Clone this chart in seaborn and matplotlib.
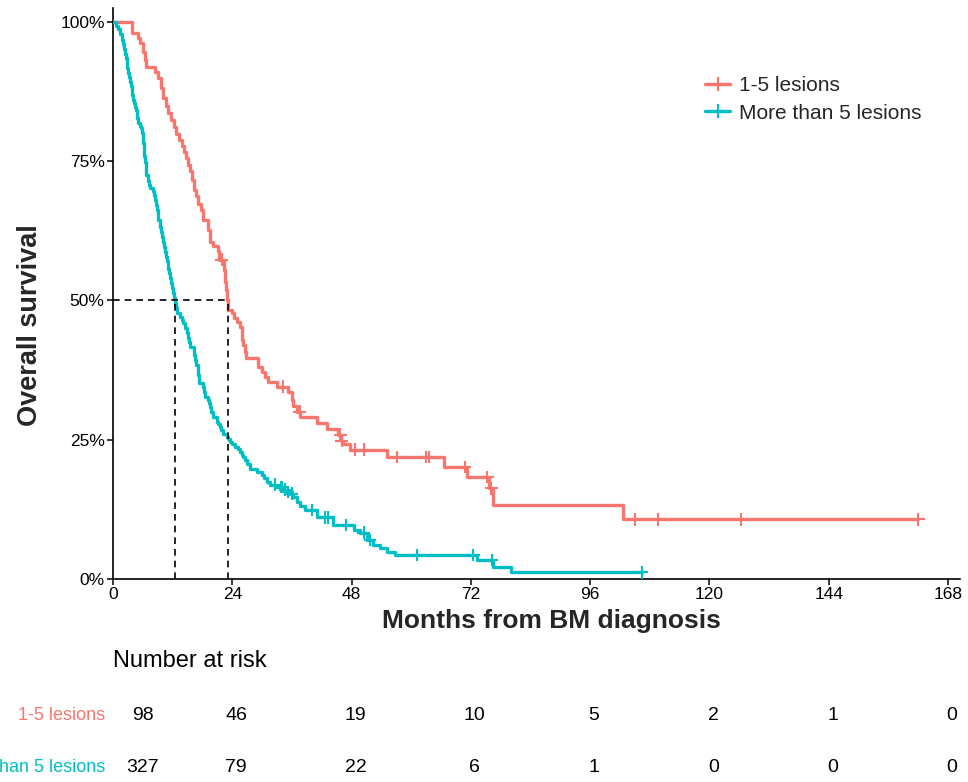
import numpy as np
import pandas as pd
import matplotlib
matplotlib.use("Agg")
import matplotlib.pyplot as plt
import matplotlib.transforms as mtransforms
from matplotlib.lines import Line2D
import seaborn as sns

# ---------------- data ----------------
group_names = ["1-5 lesions", "More than 5 lesions"]
group_colors = ["#F8766D", "#00BFC4"]

# 1-5 lesions: step times (months) and survival (%) after each step
red_t = [0, 3.8, 5.0, 5.4, 6.0, 6.4, 6.6, 8.5, 9.1, 9.7, 10.1, 10.7, 11.1, 11.7, 12.3, 12.7, 13.3,
         13.9, 14.3, 14.7, 15.1, 15.5, 15.9, 16.3, 16.7, 17.1, 17.7, 18.1, 19.1, 19.5, 20.1, 21.1, 21.4,
         22.3, 22.5, 22.7, 22.9, 23.2, 23.9, 24.3, 24.9, 25.6, 25.9, 26.0, 26.2, 26.6, 26.8, 29.2, 29.9,
         30.6, 31.2, 32.9, 35.3, 36.0, 36.3, 37.0, 37.7, 41.0, 43.0, 45.3, 45.8, 46.3, 47.7, 55.1, 66.5,
         71.2, 75.7, 76.5, 102.6]
red_s = [100, 98.0, 97.1, 96.2, 94.6, 93.2, 91.9, 91.0, 89.9, 88.2, 86.4, 84.9, 83.7, 82.4, 81.1, 79.9, 78.8,
         77.7, 76.7, 75.6, 74.3, 73.2, 71.6, 69.8, 68.8, 67.3, 66.2, 64.5, 62.7, 60.5, 59.8, 58.9, 57.3,
         55.5, 53.3, 51.9, 50.1, 48.3, 47.8, 46.9, 46.1, 45.2, 44.2, 42.9, 42.0, 40.8, 39.7, 38.1, 37.2,
         36.3, 35.4, 34.5, 33.6, 32.1, 31.1, 30.0, 29.1, 28.0, 26.9, 25.9, 24.8, 24.2, 23.2, 21.9, 20.1,
         18.3, 16.3, 13.3, 10.7]
red_censored = [21.9, 34.3, 37.6, 45.7, 46.0, 48.7, 50.4, 57.2, 62.9, 63.6, 70.8, 75.3, 76.1,
                105.0, 109.7, 126.4, 162.0]

# More than 5 lesions
teal_t = [0, 0.6, 1.0, 1.4, 1.8, 2.1, 2.2, 2.4, 2.6, 2.8,
          2.9, 3.1, 3.2, 3.4, 3.6, 3.8, 3.9, 4.1, 4.2, 4.4,
          4.6, 4.8, 4.9, 5.1, 5.4, 5.6, 5.9, 6.0, 6.1, 6.2,
          6.3, 6.4, 6.6, 6.7, 7.0, 7.2, 7.4, 8.1, 8.2, 8.4,
          8.7, 8.8, 9.0, 9.1, 9.5, 9.7, 9.9, 10.1, 10.3, 10.5,
          10.6, 10.9, 11.0, 11.1, 11.3, 11.5, 11.7, 11.9, 12.1, 12.3,
          12.5, 12.7, 12.8, 13.5, 13.8, 14.1, 14.5, 14.8, 15.1, 15.3,
          15.5, 16.2, 16.3, 16.5, 16.7, 17.0, 17.1, 17.4, 18.2, 18.3,
          18.5, 19.2, 19.3, 19.5, 19.8, 20.2, 20.9, 21.1, 21.5, 21.8,
          22.2, 22.9, 23.1, 23.5, 23.9, 24.5, 25.2, 25.6, 26.0, 26.2,
          26.6, 27.0, 27.6, 28.9, 29.9, 30.4, 30.9, 31.6, 32.8, 34.2,
          34.8, 35.6, 36.3, 37.0, 37.6, 38.6, 41.0, 44.3, 48.4, 49.7,
          51.0, 52.4, 53.7, 55.1, 56.7, 73.2, 76.4, 80.0]
teal_s = [100, 99.3, 98.7, 97.8, 96.8, 96.1, 95.2, 94.3, 93.5, 92.6,
          91.7, 90.8, 90.1, 89.2, 88.5, 87.8, 86.9, 86.0, 85.5, 84.7,
          84.2, 83.6, 82.8, 81.9, 81.3, 80.9, 80.0, 79.1, 78.3, 77.0,
          75.9, 74.8, 73.7, 72.6, 71.5, 70.7, 70.2, 69.7, 68.9, 68.0,
          67.1, 66.2, 65.4, 64.5, 63.2, 62.3, 61.4, 60.5, 59.6, 58.7,
          57.8, 57.1, 56.6, 55.7, 54.9, 54.0, 53.1, 52.2, 51.3, 50.4,
          49.6, 48.7, 47.8, 47.0, 46.5, 46.0, 45.1, 44.2, 43.3, 42.5,
          41.7, 41.1, 40.2, 39.3, 38.4, 37.5, 36.6, 35.2, 34.5, 33.6,
          32.7, 32.1, 31.6, 30.9, 30.0, 29.1, 28.2, 27.8, 27.3, 26.8,
          26.0, 25.5, 25.1, 24.6, 24.2, 23.7, 23.3, 22.8, 22.3, 21.9,
          21.4, 20.6, 19.7, 19.2, 18.7, 18.1, 17.4, 16.9, 16.5, 16.0,
          15.6, 15.3, 14.7, 13.8, 13.1, 12.4, 11.1, 9.7, 8.8, 8.3,
          7.0, 6.1, 5.6, 4.8, 4.3, 3.4, 2.2, 1.2]
teal_censored = [32.6, 33.7, 34.0, 34.7, 35.2, 36.0, 40.0, 42.6, 43.3, 46.8, 50.4, 51.7,
                 61.1, 72.5, 76.2, 106.4]

risk_times = [0, 24, 48, 72, 96, 120, 144, 168]
risk_red = [98, 46, 19, 10, 5, 2, 1, 0]
risk_teal = [327, 79, 22, 6, 1, 0, 0, 0]

x_ticks = [0, 24, 48, 72, 96, 120, 144, 168]
y_ticks = [0, 25, 50, 75, 100]

# ---------------- build tables ----------------
curves = [(red_t, red_s, red_censored), (teal_t, teal_s, teal_censored)]
line_rows, cens_rows, medians = [], [], []
for name, (t, s, c) in zip(group_names, curves):
    t = np.asarray(t, float)
    s = np.asarray(s, float) / 100.0
    t_end = max(max(c), t[-1])
    tt = np.append(t, t_end)
    ss = np.append(s, s[-1])
    line_rows.append(pd.DataFrame({"time": tt, "surv": ss, "group": name}))
    idx = np.searchsorted(t, np.asarray(c), side="right") - 1
    cens_rows.append(pd.DataFrame({"time": c, "surv": s[idx], "group": name}))
    medians.append(t[np.argmax(s <= 0.5)])
lines_df = pd.concat(line_rows, ignore_index=True)
cens_df = pd.concat(cens_rows, ignore_index=True)

# ---------------- figure ----------------
sns.set_theme(style="white")
plt.rcParams["font.family"] = ["Liberation Sans", "DejaVu Sans"]

W, H = 968, 782
fig = plt.figure(figsize=(W / 100, H / 100), dpi=100)
ax = fig.add_axes([113 / W, 1 - 579 / H, 847 / W, 571 / H])

palette = dict(zip(group_names, group_colors))
sns.lineplot(data=lines_df, x="time", y="surv", hue="group", palette=palette,
             estimator=None, sort=False, drawstyle="steps-post", linewidth=2.4,
             legend=False, ax=ax, zorder=3)
sns.scatterplot(data=cens_df, x="time", y="surv", hue="group", palette=palette,
                marker="+", s=85, linewidth=1.5, legend=False, ax=ax, zorder=4)

# median lines
m_max = max(medians)
ax.plot([0, m_max], [0.5, 0.5], color="black", lw=1.2, ls=(0, (4, 3)), zorder=5)
for m in medians:
    ax.plot([m, m], [0, 0.5], color="black", lw=1.2, ls=(0, (4, 3)), zorder=5)

ax.set_xlim(0, 170.4)
ax.set_ylim(0, 1.025)
ax.set_xticks(x_ticks)
ax.set_xticklabels([str(v) for v in x_ticks])
ax.set_yticks([v / 100 for v in y_ticks])
ax.set_yticklabels([f"{v}%" for v in y_ticks])
for side in ["top", "right"]:
    ax.spines[side].set_visible(False)
for side in ["left", "bottom"]:
    ax.spines[side].set_color("black")
    ax.spines[side].set_linewidth(1.2)
ax.tick_params(axis="both", which="major", length=4, width=1.1, color="black",
               labelsize=12.5, labelcolor="black", pad=2, direction="out",
               bottom=True, left=True)
ax.set_xlabel("Months from BM diagnosis", fontsize=19, fontweight="bold")
ax.set_ylabel("Overall survival", fontsize=19.5, fontweight="bold")
ax.xaxis.set_label_coords((551 - 113) / 847, -(609 - 579) / 571)
ax.yaxis.set_label_coords((43 - 113) / 847, (579 - 325) / 571)

handles = [Line2D([0], [0], color=c, lw=2.4, marker="+", markersize=10, mew=1.5)
           for c in group_colors]
ax.legend(handles, group_names, loc="upper left", bbox_to_anchor=(705 / W, 1 - 76 / H),
          bbox_transform=fig.transFigure, frameon=False, fontsize=15,
          handlelength=1.2, handletextpad=0.45, labelspacing=0.42, borderpad=0,
          borderaxespad=0)

# ---------------- number at risk table ----------------
trans = mtransforms.blended_transform_factory(ax.transData, fig.transFigure)
fig.text(0, 1 - 661 / H, "Number at risk", transform=trans, fontsize=17,
         ha="left", va="center", color="black")
row_y = [1 - 715 / H, 1 - 768 / H]
for name, col, counts, y in zip(group_names, group_colors, [risk_red, risk_teal], row_y):
    fig.text(-1.6, y, name, transform=trans, fontsize=13, ha="right", va="center",
             color=col)
    for t, n in zip(risk_times, counts):
        xpos = 6 if t == 0 else t + 0.8
        fig.text(xpos, y, str(n), transform=trans, fontsize=14, ha="center",
                 va="center", color="black")

fig.savefig("out.png", dpi=100)
